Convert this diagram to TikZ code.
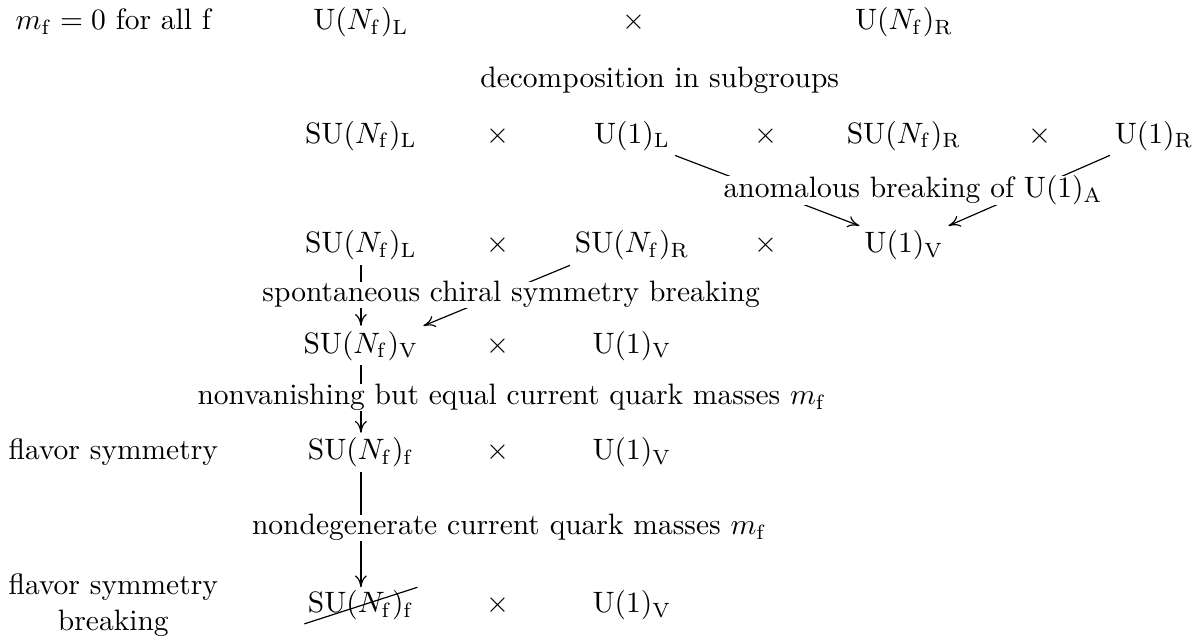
\documentclass[tikz,border=0pt]{standalone}
\usepackage{amsmath,amssymb}
\usepackage{tikz}
\usetikzlibrary{arrows.meta,positioning,shapes.misc,backgrounds}
\tikzset{
  grp/.style={inner sep=1.5pt,anchor=base},
  brk/.style={fill=white,inner sep=0pt,anchor=base},
  side/.style={align=center,inner sep=0pt},
  map/.style={-{To[length=4pt,width=4pt]},line width=.4pt},
  killed/.style={grp,strike out,draw,line width=.4pt,inner sep=1pt},
}
\newcommand{\SUN}[1]{$\mathrm{SU}(N_\mathrm{f})_\mathrm{#1}$}
\newcommand{\UN}[1]{$\mathrm{U}(N_\mathrm{f})_\mathrm{#1}$}
\newcommand{\Uone}[1]{$\mathrm{U}(1)_\mathrm{#1}$}
\begin{document}
\begin{tikzpicture}[x=1cm,y=1cm]
  \useasboundingbox (0,0) rectangle (14.345,-7.661);
  % ---------------- row 1 : full symmetry ----------------
  \node[grp] (mzero)  at (1.35,-0.357)  {$m_\mathrm{f}=0$ for all f};
  \node[grp] (UNL1)   at (4.30,-0.357)  {\UN{L}};
  \node[grp] (x11)    at (7.55,-0.357)  {$\times$};
  \node[grp] (UNR1)   at (10.77,-0.357) {\UN{R}};
  \node[brk] (decomp) at (7.86,-1.037)  {decomposition in subgroups};
  % ---------------- row 3 ----------------
  \node[grp] (SUL3)   at (4.30,-1.704)  {\SUN{L}};
  \node[grp] (x31)    at (5.93,-1.704)  {$\times$};
  \node[grp] (U1L3)   at (7.53,-1.704)  {\Uone{L}};
  \node[grp] (x32)    at (9.13,-1.704)  {$\times$};
  \node[grp] (SUR3)   at (10.77,-1.704) {\SUN{R}};
  \node[grp] (x33)    at (12.39,-1.704) {$\times$};
  \node[grp] (U1R3)   at (13.75,-1.704) {\Uone{R}};
  % ---------------- row 5 ----------------
  \node[grp] (SUL5)   at (4.30,-3.014)  {\SUN{L}};
  \node[grp] (x51)    at (5.93,-3.014)  {$\times$};
  \node[grp] (SUR5)   at (7.53,-3.014)  {\SUN{R}};
  \node[grp] (x52)    at (9.13,-3.014)  {$\times$};
  \node[grp] (U1V5)   at (10.77,-3.014) {\Uone{V}};
  % ---------------- row 7 ----------------
  \node[grp] (SUV7)   at (4.30,-4.206)  {\SUN{V}};
  \node[grp] (x71)    at (5.93,-4.206)  {$\times$};
  \node[grp] (U1V7)   at (7.53,-4.206)  {\Uone{V}};
  % ---------------- row 9 ----------------
  \node[grp] (flav)   at (1.35,-5.480)  {flavor symmetry};
  \node[grp] (SUf9)   at (4.30,-5.480)  {\SUN{f}};
  \node[grp] (x91)    at (5.93,-5.480)  {$\times$};
  \node[grp] (U1V9)   at (7.53,-5.480)  {\Uone{V}};
  % ---------------- row 11 ----------------
  \node[side] (flavbr) at (1.35,-7.208) {flavor symmetry\\breaking};
  \node[killed] (SUf11) at (4.30,-7.303) {\SUN{f}};
  \node[grp] (x111)   at (5.93,-7.303)  {$\times$};
  \node[grp] (U1V11)  at (7.53,-7.303)  {\Uone{V}};
  % ---------------- maps (behind the labels) ----------------
  \begin{scope}[on background layer]
    \draw[map] (U1L3.south east) -- (U1V5.north west);
    \draw[map] (U1R3.south west) -- (U1V5.north east);
    \draw[map] (SUL5.south) -- (SUV7.north);
    \draw[map] (SUR5.south west) -- (SUV7.north east);
    \draw[map] (SUV7.south) -- (SUf9.north);
    \draw[map] (SUf9.south) -- (SUf11.north);
  \end{scope}
  % ---------------- labels ----------------
  \node[brk] (anom)   at (10.88,-2.359) {anomalous breaking of $\mathrm{U}(1)_\mathrm{A}$};
  \node[brk] (spont)  at (6.09,-3.598)  {spontaneous chiral symmetry breaking};
  \node[brk] (equal)  at (6.10,-4.825)  {nonvanishing but equal current quark masses $m_\mathrm{f}$};
  \node[brk] (nondeg) at (6.07,-6.374)  {nondegenerate current quark masses $m_\mathrm{f}$};
\end{tikzpicture}
\end{document}
